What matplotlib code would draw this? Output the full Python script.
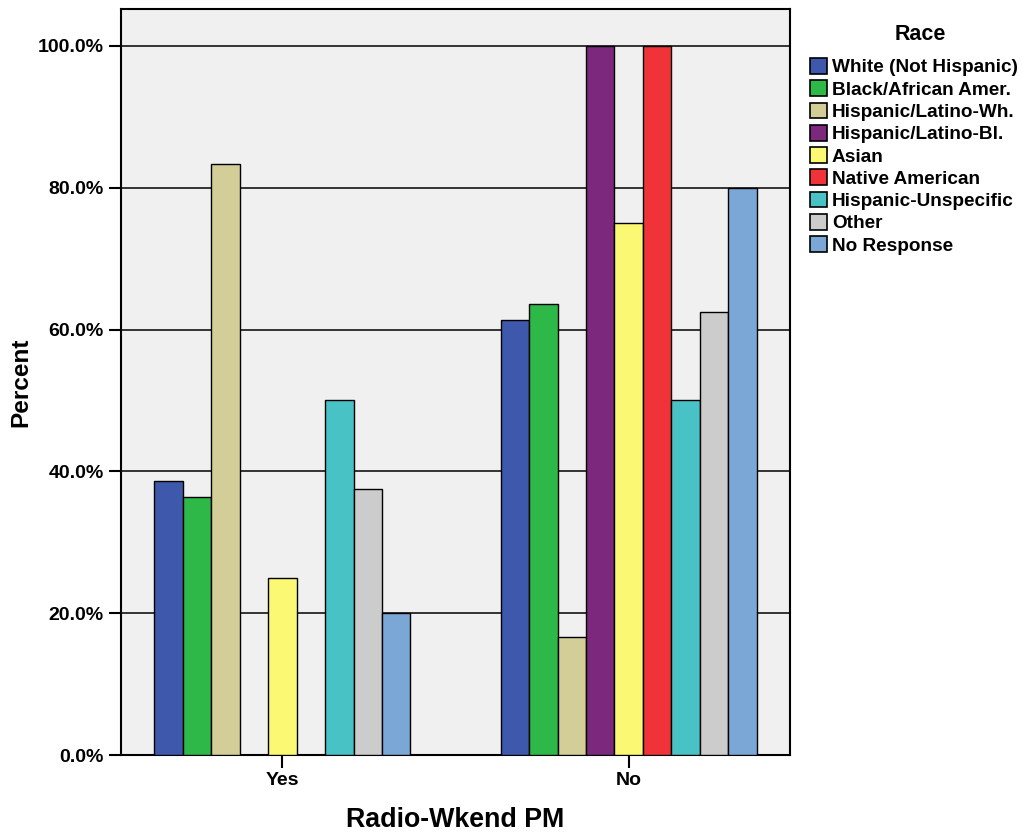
import numpy as np
import matplotlib.pyplot as plt
from matplotlib.patches import Patch
from matplotlib.ticker import FuncFormatter

plt.rcParams['font.family'] = ['Liberation Sans', 'DejaVu Sans']
plt.rcParams['font.weight'] = 'bold'

groups = ['Yes', 'No']
races = ['White (Not Hispanic)', 'Black/African Amer.', 'Hispanic/Latino-Wh.',
         'Hispanic/Latino-Bl.', 'Asian', 'Native American',
         'Hispanic-Unspecific', 'Other', 'No Response']
yes_vals = [38.7, 36.4, 83.3, 0.0, 25.0, 0.0, 50.0, 37.5, 20.0]
no_vals = [61.3, 63.6, 16.7, 100.0, 75.0, 100.0, 50.0, 62.5, 80.0]
colors = ['#3E58AC', '#2EB848', '#D3CE97', '#7B287D', '#FBF873',
          '#EF3338', '#48C2C5', '#CCCCCC', '#7BA7D7']

fig = plt.figure(figsize=(10.23, 8.38), dpi=100)
ax = fig.add_axes([0.1183, 0.0990, 0.654, 0.8902])
ax.set_facecolor('#F0F0F0')

x = np.arange(len(groups))
w = 0.0822
vals = np.array([yes_vals, no_vals])
for i, c in enumerate(colors):
    off = (i - 4) * w
    ax.bar(x + off, vals[:, i], width=w, color=c, edgecolor='black',
           linewidth=1.0, zorder=3)

ax.set_xlim(-0.466, 1.466)
ax.set_ylim(0, 105.2)
ax.set_yticks([0, 20, 40, 60, 80, 100])
ax.yaxis.set_major_formatter(FuncFormatter(lambda v, p: '%.1f%%' % v))
ax.set_xticks(x)
ax.set_xticklabels(groups)
ax.grid(axis='y', color='black', linewidth=1.1, zorder=1)
ax.tick_params(axis='both', length=9, width=1.5, labelsize=14, colors='black')
for s in ax.spines.values():
    s.set_linewidth(1.5)

ax.set_ylabel('Percent', fontsize=17.6, fontweight='bold', labelpad=4)
ax.set_xlabel('Radio-Wkend PM', fontsize=19.3, fontweight='bold', labelpad=13)

# title of the legend drawn on its own to get the wider gap
fig.text(920 / 1023, 1 - 34 / 838, 'Race', fontsize=15.5, fontweight='bold',
         ha='center', va='center')
handles = [Patch(facecolor=c, edgecolor='black', linewidth=1.2) for c in colors]
leg = fig.legend(handles, races, loc='upper left',
                 bbox_to_anchor=(810 / 1023, 1 - 58 / 838),
                 frameon=False, fontsize=13.7,
                 handlelength=0.9, handleheight=0.9, handletextpad=0.25,
                 labelspacing=0.2, borderaxespad=0, borderpad=0)
plt.savefig('out.png', dpi=100)
